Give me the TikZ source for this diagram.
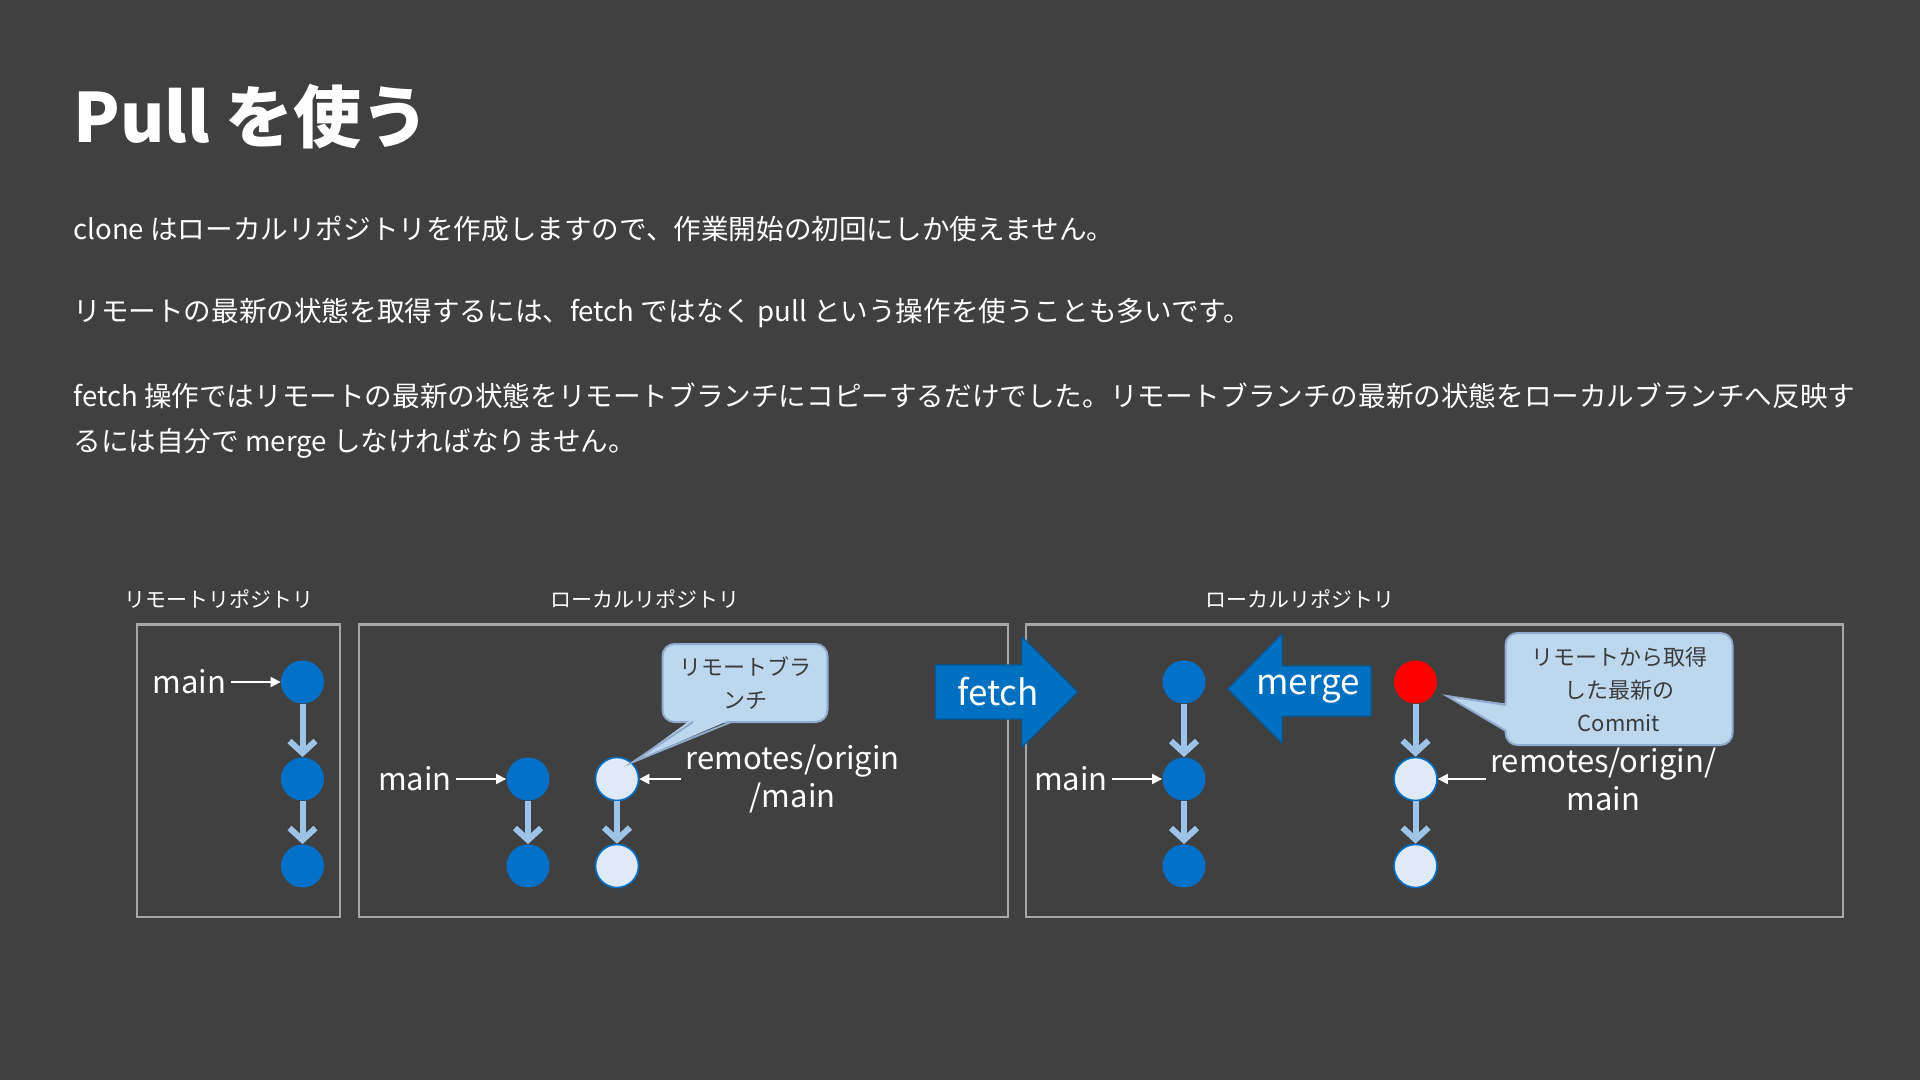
\documentclass[tikz,border=0pt]{standalone}
\usepackage{fontspec}
\setmainfont{Noto Sans CJK JP}
\usetikzlibrary{arrows.meta,positioning}
\definecolor{slidebg}{HTML}{404040}
\definecolor{boxline}{HTML}{A6A6A6}
\definecolor{commitblue}{HTML}{0070C8}
\definecolor{commitpale}{HTML}{DEEBF7}
\definecolor{linkblue}{HTML}{9DC3E6}
\definecolor{calloutfill}{HTML}{BDD7EE}
\definecolor{calloutline}{HTML}{8FAACC}
\definecolor{calloutgray}{HTML}{3C3C3C}
\definecolor{opblue}{HTML}{0070C0}
\definecolor{opedge}{HTML}{005A9E}
\tikzset{
  commit/.style={circle,minimum size=21.5pt,inner sep=0pt},
  localc/.style={commit,fill=commitblue},
  remotec/.style={commit,fill=commitpale,draw=commitblue,line width=0.8pt},
  newestc/.style={commit,fill=red},
  link/.style={draw=linkblue,line width=3pt,-{Straight Barb[length=6pt,width=13pt]}},
  ptr/.style={draw=white,line width=0.9pt,-{Triangle[length=5pt,width=5pt]}},
  reftext/.style={text=white,font=\fontsize{15.5}{19}\selectfont,inner sep=2pt,align=center},
  repo/.style={draw=boxline,line width=1.2pt},
  repolabel/.style={text=white,font=\fontsize{10.5}{13}\selectfont},
  callout/.style={fill=calloutfill,draw=calloutline,line width=1pt,rounded corners=6pt,
    text=calloutgray,align=center,font=\fontsize{11}{16.5}\selectfont},
  tail/.style={draw=calloutline,line width=1pt},
  opshape/.style={fill=opblue,draw=opedge,line width=0.6pt},
  optext/.style={text=white,font=\fontsize{17.5}{20}\selectfont},
  body/.style={anchor=west,inner sep=0pt,text=white,font=\fontsize{13.8}{17}\selectfont},
}
\begin{document}
\begin{tikzpicture}[x=0.5pt,y=-0.5pt]
  \fill[slidebg] (0,0) rectangle (1920,1080);
  \useasboundingbox (0,0) rectangle (1920,1080);
  \node[anchor=base west,inner sep=0pt,text=white,font=\fontsize{34}{38}\selectfont\bfseries] (title) at (73,143) {Pull を使う};
  \node[body] (line1) at (73,229) {clone はローカルリポジトリを作成しますので、作業開始の初回にしか使えません。};
  \node[body] (line2) at (73,313) {リモートの最新の状態を取得するには、fetch ではなく pull という操作を使うことも多いです。};
  \node[body] (line3) at (73,396) {fetch 操作ではリモートの最新の状態をリモートブランチにコピーするだけでした。リモートブランチの最新の状態をローカルブランチへ反映す};
  \node[body] (line4) at (73,443) {るには自分で merge しなければなりません。};

  \draw[repo] (137,624.5) rectangle (340,917);
  \draw[repo] (359,624.5) rectangle (1008,917);
  \draw[repo] (1026,624.5) rectangle (1843,917);
  \node[repolabel] (remoterepo) at (219,599) {リモートリポジトリ};
  \node[repolabel] (localrepo1) at (645,599) {ローカルリポジトリ};
  \node[repolabel] (localrepo2) at (1300,599) {ローカルリポジトリ};

  \node[localc] (ra) at (302.5,682) {};
  \node[localc] (rb) at (302.5,779) {};
  \node[localc] (rc) at (302.5,866) {};
  \draw[link] (ra) -- (rb);
  \draw[link] (rb) -- (rc);
  \node[reftext,left=25pt of ra] (rmain) {main};
  \draw[ptr] (rmain) -- (ra);

  \node[localc] (fa) at (528,779) {};
  \node[localc] (fb) at (528,866) {};
  \node[remotec] (ga) at (617,779) {};
  \node[remotec] (gb) at (617,866) {};
  \draw[link] (fa) -- (fb);
  \draw[link] (ga) -- (gb);
  \node[reftext,left=25pt of fa] (fmain) {main};
  \draw[ptr] (fmain) -- (fa);
  \node[reftext,right=21pt of ga] (gref) {remotes/origin\\/main};
  \draw[ptr] (gref) -- (ga);
  \node[callout,minimum width=82.5pt,minimum height=39pt] (gnote) at (745,683) {リモートブラ\\ンチ};
  \coordinate (gtip) at (633,762);
  \fill[calloutfill] (692,719) -- (gtip) -- (732,719) -- cycle;
  \draw[tail] (693,722) -- (gtip) -- (731,722);

  \fill[opshape] (935.5,665) -- (1022,665) -- (1022,637) -- (1077.6,692) -- (1022,747) -- (1022,719) -- (935.5,719) -- cycle;
  \node[optext] (fetch) at (998,692) {fetch};

  \node[localc] (ma) at (1184,682) {};
  \node[localc] (mb) at (1184,779) {};
  \node[localc] (mc) at (1184,866) {};
  \draw[link] (ma) -- (mb);
  \draw[link] (mb) -- (mc);
  \node[reftext,left=25pt of mb] (mmain) {main};
  \draw[ptr] (mmain) -- (mb);
  \node[newestc] (na) at (1415.5,682) {};
  \node[remotec] (nb) at (1415.5,779) {};
  \node[remotec] (nc) at (1415.5,866) {};
  \draw[link] (na) -- (nb);
  \draw[link] (nb) -- (nc);
  \node[reftext,right=24pt of nb] (nref) {remotes/origin/\\main};
  \draw[ptr] (nref) -- (nb);
  \node[callout,minimum width=113.5pt,minimum height=56pt] (nnote) at (1619,689) {リモートから取得\\した最新の\\Commit};
  \coordinate (ntip) at (1447,696);
  \fill[calloutfill] (1509,704) -- (ntip) -- (1509,732) -- cycle;
  \draw[tail] (1506,705) -- (ntip) -- (1506,731);

  \fill[opshape] (1371,666) -- (1282,666) -- (1282,634) -- (1228,689) -- (1282,743) -- (1282,716) -- (1371,716) -- cycle;
  \node[optext] (merge) at (1308,689) {merge};
\end{tikzpicture}
\end{document}
